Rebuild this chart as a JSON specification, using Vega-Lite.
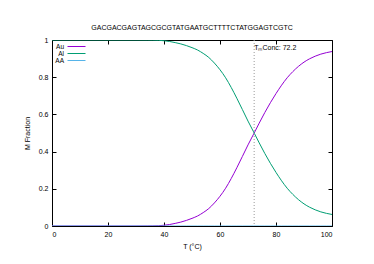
{
  "$schema": "https://vega.github.io/schema/vega-lite/v6.json",
  "width": 280,
  "height": 186,
  "autosize": "none",
  "padding": {"left": 52, "top": 40, "right": 42, "bottom": 38},
  "background": "white",
  "config": {
    "font": "Liberation Sans",
    "view": {"stroke": "black", "strokeWidth": 1}
  },
  "title": {
    "text": "GACGACGAGTAGCGCGTATGAATGCTTTTCTATGGAGTCGTC",
    "fontSize": 7,
    "fontWeight": "normal",
    "color": "black",
    "offset": 5
  },
  "datasets": {
    "curves": [
      {"T": 0, "Au": 0, "Al": 1, "AA": 0},
      {"T": 10, "Au": 0, "Al": 1, "AA": 0},
      {"T": 20, "Au": 0, "Al": 1, "AA": 0},
      {"T": 30, "Au": 0, "Al": 1, "AA": 0},
      {"T": 34, "Au": 0.0003, "Al": 0.9997, "AA": 0},
      {"T": 36, "Au": 0.0007, "Al": 0.9993, "AA": 0},
      {"T": 38, "Au": 0.0015, "Al": 0.9985, "AA": 0},
      {"T": 40, "Au": 0.004, "Al": 0.996, "AA": 0},
      {"T": 42, "Au": 0.008, "Al": 0.992, "AA": 0},
      {"T": 44, "Au": 0.014, "Al": 0.986, "AA": 0},
      {"T": 46, "Au": 0.021, "Al": 0.979, "AA": 0},
      {"T": 48, "Au": 0.03, "Al": 0.97, "AA": 0},
      {"T": 50, "Au": 0.041, "Al": 0.959, "AA": 0},
      {"T": 52, "Au": 0.054, "Al": 0.946, "AA": 0},
      {"T": 54, "Au": 0.072, "Al": 0.928, "AA": 0},
      {"T": 56, "Au": 0.094, "Al": 0.906, "AA": 0},
      {"T": 58, "Au": 0.124, "Al": 0.876, "AA": 0},
      {"T": 60, "Au": 0.16, "Al": 0.84, "AA": 0},
      {"T": 62, "Au": 0.203, "Al": 0.797, "AA": 0},
      {"T": 64, "Au": 0.255, "Al": 0.745, "AA": 0},
      {"T": 66, "Au": 0.313, "Al": 0.687, "AA": 0},
      {"T": 68, "Au": 0.374, "Al": 0.626, "AA": 0},
      {"T": 70, "Au": 0.436, "Al": 0.564, "AA": 0},
      {"T": 72, "Au": 0.494, "Al": 0.506, "AA": 0},
      {"T": 74, "Au": 0.553, "Al": 0.447, "AA": 0},
      {"T": 76, "Au": 0.61, "Al": 0.39, "AA": 0},
      {"T": 78, "Au": 0.663, "Al": 0.337, "AA": 0},
      {"T": 80, "Au": 0.712, "Al": 0.288, "AA": 0},
      {"T": 82, "Au": 0.757, "Al": 0.243, "AA": 0},
      {"T": 84, "Au": 0.797, "Al": 0.203, "AA": 0},
      {"T": 86, "Au": 0.83, "Al": 0.17, "AA": 0},
      {"T": 88, "Au": 0.858, "Al": 0.142, "AA": 0},
      {"T": 90, "Au": 0.881, "Al": 0.119, "AA": 0},
      {"T": 92, "Au": 0.899, "Al": 0.101, "AA": 0},
      {"T": 94, "Au": 0.913, "Al": 0.087, "AA": 0},
      {"T": 96, "Au": 0.924, "Al": 0.076, "AA": 0},
      {"T": 98, "Au": 0.932, "Al": 0.068, "AA": 0},
      {"T": 100, "Au": 0.938, "Al": 0.062, "AA": 0}
    ],
    "tm": [{"T": 72.2, "label": "TₘConc: 72.2", "y": 0.955}]
  },
  "layer": [
    {
      "data": {"name": "curves"},
      "transform": [{"fold": ["Au", "Al", "AA"], "as": ["series", "value"]}],
      "mark": {"type": "line", "strokeWidth": 1, "interpolate": "monotone", "clip": true},
      "encoding": {
        "x": {
          "field": "T", "type": "quantitative",
          "scale": {"domain": [0, 100], "nice": false, "zero": false},
          "axis": {
            "title": "T (°C)", "titleFontSize": 7, "titleFontWeight": "normal", "titleColor": "black", "titlePadding": 5,
            "values": [0, 20, 40, 60, 80, 100], "labelFontSize": 7, "labelColor": "black",
            "tickSize": -4, "tickColor": "black", "labelPadding": 8, "domain": false, "grid": false
          }
        },
        "y": {
          "field": "value", "type": "quantitative",
          "scale": {"domain": [0, 1], "nice": false},
          "axis": {
            "title": "M Fraction", "titleFontSize": 7, "titleFontWeight": "normal", "titleColor": "black", "titlePadding": 8,
            "values": [0, 0.2, 0.4, 0.6, 0.8, 1], "format": "~g", "labelFontSize": 7, "labelColor": "black",
            "tickSize": -4, "tickColor": "black", "labelPadding": 8, "domain": false, "grid": false
          }
        },
        "color": {
          "field": "series", "type": "nominal",
          "scale": {"domain": ["Au", "Al", "AA"], "range": ["#9400d3", "#009e73", "#56b4e9"]},
          "legend": {
            "title": null, "orient": "none", "legendX": 21, "legendY": 3,
            "symbolType": "M-3,0H3", "symbolSize": 36, "symbolStrokeWidth": 1,
            "labelFontSize": 6.5, "labelColor": "black", "labelAlign": "right", "labelOffset": -16,
            "rowPadding": 0, "padding": 0, "labelLimit": 40
          }
        },
        "order": {"field": "series", "sort": "ascending"}
      }
    },
    {
      "data": {"name": "tm"},
      "mark": {"type": "rule", "color": "#999999", "strokeDash": [1, 2], "strokeWidth": 1},
      "encoding": {"x": {"field": "T", "type": "quantitative", "axis": null}}
    },
    {
      "data": {"name": "tm"},
      "mark": {"type": "text", "align": "left", "baseline": "middle", "fontSize": 7, "color": "black", "dx": 0},
      "encoding": {
        "x": {"field": "T", "type": "quantitative", "axis": null},
        "y": {"field": "y", "type": "quantitative", "axis": null},
        "text": {"field": "label"}
      }
    },
    {
      "data": {"name": "tm"},
      "mark": {"type": "point", "opacity": 0},
      "encoding": {
        "x": {"field": "T", "type": "quantitative", "axis": {"orient": "top", "values": [0, 20, 40, 60, 80, 100], "labels": false, "title": null, "tickSize": -4, "tickColor": "black", "domain": false, "grid": false}},
        "y": {"field": "y", "type": "quantitative", "axis": {"orient": "right", "values": [0, 0.2, 0.4, 0.6, 0.8, 1], "labels": false, "title": null, "tickSize": -4, "tickColor": "black", "domain": false, "grid": false}}
      }
    }
  ],
  "resolve": {"axis": {"x": "independent", "y": "independent"}}
}
